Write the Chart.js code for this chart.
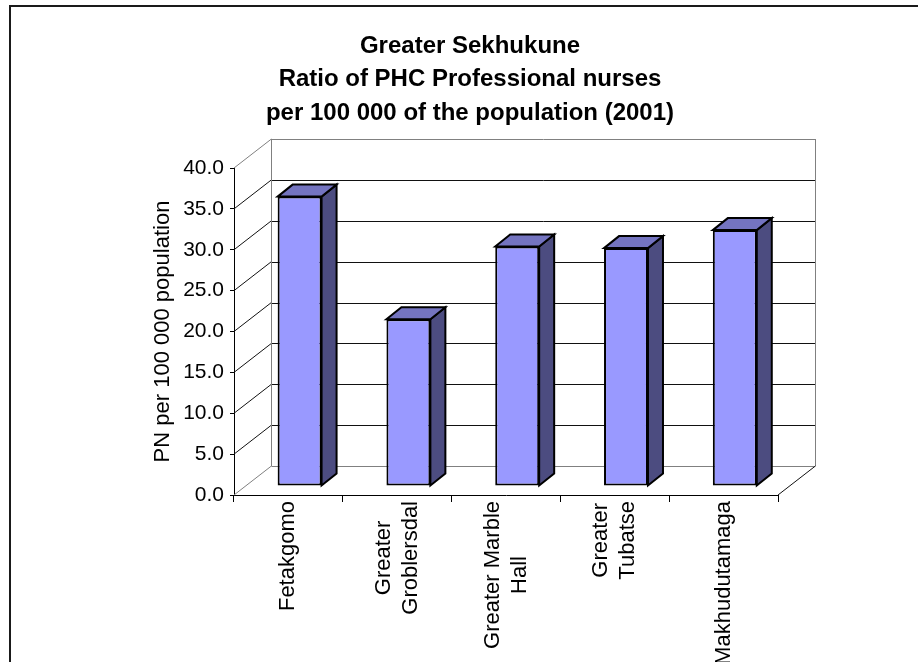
<!DOCTYPE html>
<html>
<head>
<meta charset="utf-8">
<title>Greater Sekhukune - PHC Professional nurses</title>
<script src="https://cdn.jsdelivr.net/npm/chart.js@4.4.0/dist/chart.umd.min.js"></script>
<style>
  html, body { margin: 0; padding: 0; background: #fff; }
  #wrap { width: 918px; height: 662px; position: relative; }
</style>
</head>
<body>
<div id="wrap"><canvas id="nursesChart" width="918" height="662"></canvas></div>
<script>
// 图表数据
const titleLines = [
  'Greater Sekhukune',
  'Ratio of PHC Professional nurses',
  'per 100 000 of the population (2001)'
];
const categoryLabels = [
  ['Fetakgomo'],
  ['Greater', 'Groblersdal'],
  ['Greater Marble', 'Hall'],
  ['Greater', 'Tubatse'],
  ['Makhudutamaga']
];
const nurseRatio = [35.4, 20.4, 29.3, 29.1, 31.3];
const gridValues = [0, 5, 10, 15, 20, 25, 30, 35, 40];
const yAxisTitle = 'PN per 100 000 population';

const FONT = "'Liberation Sans', Arial, sans-serif";

// 3D 透视偏移
const wallDepth = { x: 37.4, y: -29 };
const barFront = { x: 11.2, y: -9 };
const barDepth = { x: 15, y: -12 };

const line = (ctx, x1, y1, x2, y2, color) => {
  ctx.beginPath();
  ctx.strokeStyle = color;
  ctx.lineWidth = 1;
  ctx.moveTo(x1, y1);
  ctx.lineTo(x2, y2);
  ctx.stroke();
};

const chart3d = {
  id: 'chart3d',
  beforeDraw(chart) {
    const { ctx } = chart;
    ctx.save();
    ctx.strokeStyle = '#1a1a1a';
    ctx.lineWidth = 2;
    ctx.strokeRect(10, 6, 1200, 1000);
    ctx.restore();
  },
  beforeDatasetsDraw(chart) {
    const { ctx, chartArea: a, scales: { y } } = chart;
    const dx = wallDepth.x, dy = wallDepth.y;
    ctx.save();
    // 背墙网格线
    gridValues.forEach(v => {
      const yy = Math.round(y.getPixelForValue(v) + dy) + 0.5;
      const edge = v === gridValues[0] || v === gridValues[gridValues.length - 1];
      line(ctx, a.left + dx, yy, a.right + dx, yy, edge ? '#808080' : '#111');
    });
    // 左墙斜线
    gridValues.forEach(v => {
      const yf = y.getPixelForValue(v);
      const edge = v === gridValues[0] || v === gridValues[gridValues.length - 1];
      line(ctx, a.left, yf, a.left + dx, yf + dy, edge ? '#808080' : '#111');
    });
    const yTop = y.getPixelForValue(gridValues[gridValues.length - 1]) + dy;
    const yBot = y.getPixelForValue(0) + dy;
    line(ctx, Math.round(a.left + dx) + 0.5, yTop, Math.round(a.left + dx) + 0.5, yBot, '#808080');
    line(ctx, Math.round(a.right + dx) + 0.5, yTop, Math.round(a.right + dx) + 0.5, yBot, '#808080');
    // 地板右侧
    line(ctx, a.right, a.bottom, a.right + dx, a.bottom + dy, '#111');
    ctx.restore();
    // 柱子正面向后平移
    ctx.save();
    ctx.translate(barFront.x, barFront.y);
  },
  afterDatasetsDraw(chart) {
    const { ctx } = chart;
    ctx.restore();
    ctx.save();
    ctx.lineWidth = 2;
    ctx.strokeStyle = '#000';
    ctx.lineJoin = 'miter';
    chart.getDatasetMeta(0).data.forEach(el => {
      const p = el.getProps(['x', 'y', 'base', 'width'], true);
      const L = p.x - p.width / 2 + barFront.x;
      const R = p.x + p.width / 2 + barFront.x;
      const T = p.y + barFront.y;
      const B = p.base + barFront.y;
      // 侧面
      ctx.beginPath();
      ctx.moveTo(R, T);
      ctx.lineTo(R + barDepth.x, T + barDepth.y);
      ctx.lineTo(R + barDepth.x, B + barDepth.y);
      ctx.lineTo(R, B);
      ctx.closePath();
      ctx.fillStyle = '#4C4C80';
      ctx.fill();
      ctx.stroke();
      // 顶面
      ctx.beginPath();
      ctx.moveTo(L, T);
      ctx.lineTo(L + barDepth.x, T + barDepth.y);
      ctx.lineTo(R + barDepth.x, T + barDepth.y);
      ctx.lineTo(R, T);
      ctx.closePath();
      ctx.fillStyle = '#7474C0';
      ctx.fill();
      ctx.stroke();
    });
    ctx.restore();
  },
  afterDraw(chart) {
    const { ctx, scales: { x } } = chart;
    ctx.save();
    // 标题
    ctx.fillStyle = '#000';
    ctx.font = `bold 24px ${FONT}`;
    ctx.textAlign = 'center';
    ctx.textBaseline = 'middle';
    titleLines.forEach((t, i) => ctx.fillText(t, 470, 46 + i * 33.5));
    // 分类标签（旋转）
    ctx.font = `22px ${FONT}`;
    const labelTop = 501;
    const lh = 27;
    categoryLabels.forEach((lines, i) => {
      const cx = x.getPixelForValue(i);
      const maxW = Math.max(...lines.map(s => ctx.measureText(s).width));
      lines.forEach((s, j) => {
        ctx.save();
        ctx.translate(cx + (j - (lines.length - 1) / 2) * lh, labelTop + maxW / 2);
        ctx.rotate(-Math.PI / 2);
        ctx.textAlign = 'center';
        ctx.textBaseline = 'middle';
        ctx.fillText(s, 0, 0);
        ctx.restore();
      });
    });
    ctx.restore();
  }
};

new Chart(document.getElementById('nursesChart').getContext('2d'), {
  type: 'bar',
  data: {
    labels: categoryLabels,
    datasets: [{
      label: 'PN per 100 000',
      data: nurseRatio,
      backgroundColor: '#9999FF',
      borderColor: '#000',
      borderWidth: 2,
      borderSkipped: false,
      barPercentage: 0.404,
      categoryPercentage: 1,
      clip: false
    }]
  },
  options: {
    responsive: false,
    animation: false,
    devicePixelRatio: 1,
    layout: { padding: { left: 0, top: 168, right: 140, bottom: 0 } },
    plugins: {
      legend: { display: false },
      title: { display: false },
      tooltip: { enabled: false }
    },
    scales: {
      x: {
        type: 'category',
        offset: true,
        grid: { display: true, offset: true, drawOnChartArea: false, drawTicks: true, tickLength: 7, color: '#000' },
        border: { display: true, color: '#000', width: 1 },
        ticks: { display: false },
        afterFit: s => { s.height = 167; }
      },
      y: {
        min: 0,
        max: 40,
        ticks: {
          stepSize: 5,
          padding: 6,
          color: '#000',
          font: { family: FONT, size: 21 },
          callback: v => Number(v).toFixed(1)
        },
        grid: { display: true, drawOnChartArea: false, drawTicks: true, tickLength: 4, color: '#000' },
        border: { display: true, color: '#000', width: 1 },
        title: {
          display: true,
          text: yAxisTitle,
          color: '#000',
          font: { family: FONT, size: 22 },
          padding: { top: 150, bottom: 0 }
        },
        afterFit: s => { s.width = 234; }
      }
    }
  },
  plugins: [chart3d]
});
</script>
</body>
</html>
